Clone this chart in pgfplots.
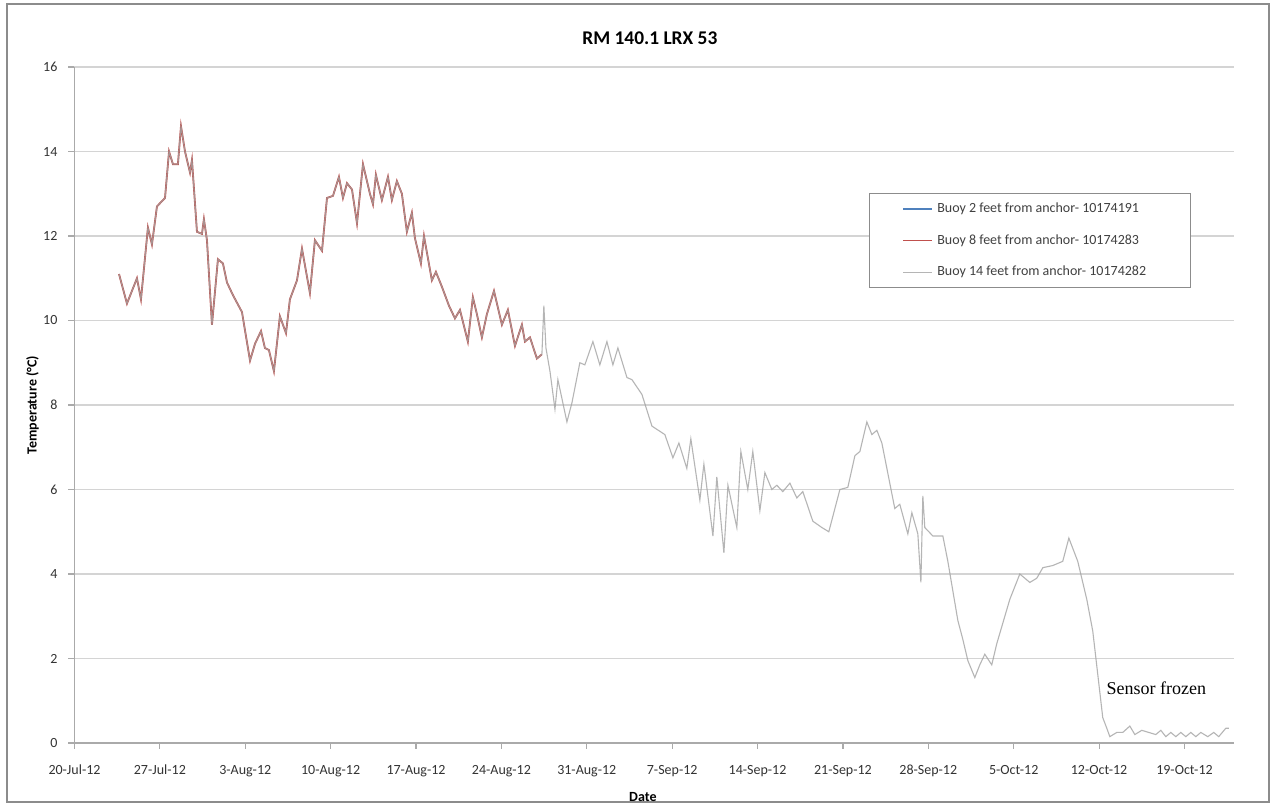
\documentclass[border=0pt]{standalone}
\usepackage{fontspec}
\setmainfont{Carlito}
\newfontfamily\timesf{Liberation Serif}
\usepackage{pgfplots}
\pgfplotsset{compat=1.18}

\definecolor{buoyblue}{HTML}{4F81BD}
\definecolor{buoyred}{HTML}{C0504D}
\definecolor{buoygray}{HTML}{A3A3A3}
\definecolor{gridgray}{HTML}{D4D4D4}
\definecolor{framegray}{HTML}{8C8C8C}

% temperature, 14 ft buoy (days after 20-Jul-12)
\pgfplotstableread{
d t
3.65 11.1
4.30 10.4
5.12 11.0
5.45 10.5
6.02 12.2
6.35 11.8
6.76 12.7
7.42 12.9
7.75 14.0
8.07 13.7
8.48 13.7
8.73 14.6
9.06 14.0
9.47 13.5
9.63 13.8
10.04 12.1
10.45 12.05
10.61 12.4
10.86 11.9
11.27 9.9
11.76 11.45
12.17 11.35
12.50 10.9
12.99 10.6
13.73 10.2
14.39 9.05
14.80 9.45
15.29 9.75
15.61 9.35
15.94 9.3
16.35 8.8
16.84 10.1
17.34 9.7
17.66 10.5
18.24 10.95
18.65 11.7
19.30 10.65
19.71 11.9
20.29 11.65
20.70 12.9
21.19 12.95
21.68 13.4
22.01 12.9
22.34 13.25
22.75 13.1
23.16 12.3
23.65 13.7
24.22 13.0
24.47 12.75
24.71 13.45
25.20 12.85
25.70 13.4
26.02 12.85
26.43 13.3
26.84 13.0
27.25 12.1
27.66 12.55
27.91 11.95
28.40 11.35
28.65 12.0
29.30 10.95
29.63 11.15
30.12 10.8
30.70 10.35
31.19 10.05
31.60 10.25
32.25 9.5
32.66 10.55
32.99 10.15
33.40 9.6
33.81 10.15
34.39 10.7
35.04 9.9
35.53 10.25
36.11 9.4
36.68 9.9
36.93 9.5
37.34 9.6
37.91 9.1
38.32 9.2
38.48 10.35
38.65 9.35
38.98 8.8
39.39 7.9
39.63 8.6
40.37 7.6
40.78 8.05
41.43 9.0
41.84 8.95
42.50 9.5
43.07 8.95
43.65 9.5
44.14 8.95
44.55 9.35
45.29 8.65
45.70 8.6
46.52 8.25
47.34 7.5
48.40 7.3
49.06 6.75
49.55 7.1
50.20 6.5
50.53 7.2
51.27 5.75
51.60 6.6
52.34 4.9
52.66 6.3
53.24 4.5
53.57 6.1
54.30 5.1
54.63 6.9
55.20 6.0
55.61 6.9
56.19 5.5
56.60 6.4
57.17 6.0
57.58 6.1
58.07 5.95
58.65 6.15
59.22 5.8
59.71 5.95
60.53 5.25
61.27 5.1
61.84 5.0
62.75 6.0
63.40 6.05
63.98 6.8
64.39 6.9
64.96 7.6
65.37 7.3
65.78 7.4
66.19 7.1
67.25 5.55
67.66 5.65
68.32 4.95
68.65 5.45
69.14 4.95
69.39 3.8
69.55 5.85
69.71 5.1
70.37 4.9
71.19 4.9
71.60 4.3
72.42 2.9
72.83 2.45
73.24 1.95
73.81 1.55
74.22 1.85
74.63 2.1
75.20 1.85
75.61 2.35
76.68 3.4
77.50 4.0
78.32 3.8
78.89 3.9
79.39 4.15
80.20 4.2
81.02 4.3
81.52 4.85
82.25 4.3
82.99 3.4
83.48 2.65
84.30 0.6
84.63 0.35
84.88 0.15
85.45 0.25
85.94 0.25
86.52 0.4
86.93 0.2
87.50 0.3
88.07 0.25
88.65 0.2
89.06 0.3
89.47 0.15
89.88 0.25
90.29 0.15
90.70 0.25
91.11 0.15
91.52 0.25
91.93 0.15
92.34 0.25
92.91 0.15
93.40 0.25
93.81 0.15
94.39 0.35
94.63 0.35
}\buoyfourteen

% 8 ft buoy, only logged until end of August
\pgfplotstableread{
d t
3.65 11.1
4.30 10.4
5.12 11.0
5.45 10.5
6.02 12.2
6.35 11.8
6.76 12.7
7.42 12.9
7.75 14.0
8.07 13.7
8.48 13.7
8.73 14.6
9.06 14.0
9.47 13.5
9.63 13.8
10.04 12.1
10.45 12.05
10.61 12.4
10.86 11.9
11.27 9.9
11.76 11.45
12.17 11.35
12.50 10.9
12.99 10.6
13.73 10.2
14.39 9.05
14.80 9.45
15.29 9.75
15.61 9.35
15.94 9.3
16.35 8.8
16.84 10.1
17.34 9.7
17.66 10.5
18.24 10.95
18.65 11.7
19.30 10.65
19.71 11.9
20.29 11.65
20.70 12.9
21.19 12.95
21.68 13.4
22.01 12.9
22.34 13.25
22.75 13.1
23.16 12.3
23.65 13.7
24.22 13.0
24.47 12.75
24.71 13.45
25.20 12.85
25.70 13.4
26.02 12.85
26.43 13.3
26.84 13.0
27.25 12.1
27.66 12.55
27.91 11.95
28.40 11.35
28.65 12.0
29.30 10.95
29.63 11.15
30.12 10.8
30.70 10.35
31.19 10.05
31.60 10.25
32.25 9.5
32.66 10.55
32.99 10.15
33.40 9.6
33.81 10.15
34.39 10.7
35.04 9.9
35.53 10.25
36.11 9.4
36.68 9.9
36.93 9.5
37.34 9.6
37.91 9.1
38.32 9.2
}\buoyeight

\begin{document}
\begin{tikzpicture}
% page and chart frame (1 px of the reference = 0.5pt)
\useasboundingbox (-37.25pt,-32.5pt) rectangle (600.25pt,371.5pt);
\fill[white] (-37.25pt,-32.5pt) rectangle (600.25pt,371.5pt);
\draw[framegray, line width=0.8pt] (-33.75pt,-29.5pt) rectangle (597.25pt,369.5pt);

\begin{axis}[
    at={(0,0)}, anchor=south west,
    scale only axis,
    width=580pt, height=338pt,
    xmin=0, xmax=95.1,
    ymin=0, ymax=16,
    xtick={0,7,...,91},
    xticklabels={20-Jul-12,27-Jul-12,3-Aug-12,10-Aug-12,17-Aug-12,24-Aug-12,31-Aug-12,7-Sep-12,14-Sep-12,21-Sep-12,28-Sep-12,5-Oct-12,12-Oct-12,19-Oct-12},
    ytick={0,2,...,16},
    axis x line*=bottom, axis y line*=left,
    axis line style={gridgray!80!black, line width=0.6pt},
    every tick/.style={gridgray!80!black, line width=0.6pt},
    xtick align=outside, ytick align=outside,
    major tick length=3pt,
    ymajorgrids,
    grid style={gridgray, line width=0.6pt},
    tick label style={font=\fontsize{7}{8}\selectfont, text=black!80},
    /pgf/number format/assume math mode=true,
    xticklabel style={yshift=-4.5pt},
    yticklabel style={xshift=-2pt},
    every axis x label/.style={at={(rel axis cs:0.49,0)}, anchor=center, yshift=-27pt, font=\fontsize{7}{8}\selectfont\bfseries},
    every axis y label/.style={at={(rel axis cs:0,0.5)}, xshift=-21pt, rotate=90, anchor=center, font=\fontsize{7}{8}\selectfont\bfseries},
    xlabel={Date},
    ylabel={Temperature (°C)},
    every axis title/.style={at={(rel axis cs:0.496,1)}, anchor=center, yshift=14.5pt, font=\fontsize{9.7}{11}\selectfont\bfseries},
    title={RM 140.1 LRX 53},
    legend style={
        at={(rel axis cs:0.685,0.8136)}, anchor=north west,
        draw=framegray, line width=0.6pt,
        font=\fontsize{7}{8}\selectfont,
        text=black!75,
        inner xsep=16.5pt, inner ysep=2.5pt,
        row sep=5.5pt,
        cells={anchor=west},
    },
    legend image code/.code={\draw[line width=0.8pt] (0pt,0pt) -- (14.5pt,0pt);},
]
\addlegendimage{buoyblue, line width=0.8pt}
\addlegendentry{Buoy 2 feet from anchor- 10174191}
\addplot[buoyred, line width=0.9pt, forget plot] table[x=d, y=t] {\buoyeight};
\addlegendimage{buoyred, line width=0.8pt}
\addlegendentry{Buoy 8 feet from anchor- 10174283}
\addplot[buoygray, line width=0.55pt, opacity=0.8] table[x=d, y=t] {\buoyfourteen};
\addlegendentry{Buoy 14 feet from anchor- 10174282\hspace*{3.5pt}}

\node[font=\timesf\fontsize{9}{10}\selectfont, anchor=center] at (axis cs:88.7,1.3) {Sensor frozen};
\end{axis}
\end{tikzpicture}
\end{document}
